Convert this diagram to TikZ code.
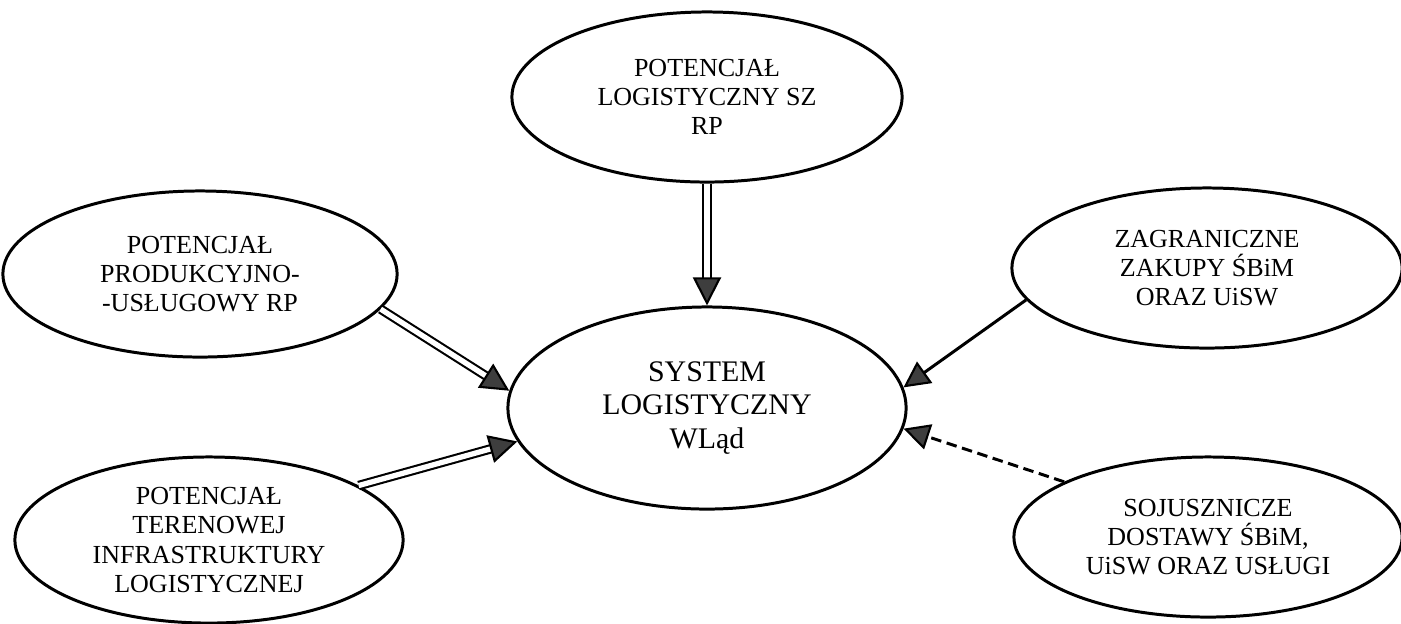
\documentclass[tikz,border=0pt]{standalone}
\usepackage{fontspec}
\setmainfont{Liberation Serif}
\usetikzlibrary{shapes.geometric,arrows.meta}
\definecolor{tipgray}{RGB}{62,62,62}
\tikzset{
  blob/.style={draw,ellipse,line width=0.85pt,inner sep=0pt,align=center,
    font=\fontsize{7.4}{8.3}\selectfont},
  feed/.style={double,line width=0.6pt,double distance=1.5pt,
    -{Triangle[length=8pt,width=8pt,fill=tipgray,line width=0.6pt]}},
  link/.style={line width=0.85pt,
    -{Triangle[length=7.4pt,width=7.4pt,fill=tipgray,line width=0.6pt]}},
}
\begin{document}
\begin{tikzpicture}[x=0.01cm,y=-0.01cm]
  \useasboundingbox (0,0) rectangle (1401,623);
  % ellipses
  \node[blob,minimum width=3.9cm,minimum height=1.7cm] (szrp) at (707,97) {POTENCJAŁ\\LOGISTYCZNY SZ\\RP};
  \node[blob,minimum width=3.98cm,minimum height=2.02cm,
    font=\fontsize{8.5}{9.4}\selectfont] (wlad) at (707,408) {SYSTEM\\LOGISTYCZNY\\WLąd};
  \node[blob,minimum width=3.94cm,minimum height=1.66cm] (prod) at (200,274) {POTENCJAŁ\\PRODUKCYJNO-\\-USŁUGOWY RP};
  \node[blob,minimum width=3.88cm,minimum height=1.66cm] (infra) at (209,540) {POTENCJAŁ\\TERENOWEJ\\INFRASTRUKTURY\\LOGISTYCZNEJ};
  \node[blob,minimum width=3.9cm,minimum height=1.6cm] (zakupy) at (1207,268) {ZAGRANICZNE\\ZAKUPY ŚBiM\\ORAZ UiSW};
  \node[blob,minimum width=3.88cm,minimum height=1.6cm] (dostawy) at (1208,537) {SOJUSZNICZE\\DOSTAWY ŚBiM,\\UiSW ORAZ USŁUGI};
  % connectors
  \draw[feed] (szrp.south) -- (wlad.north);
  \draw[feed] (prod.-11) -- (wlad.175);
  \draw[feed] (infra.20) -- (wlad.190);
  \draw[link] (zakupy.190) -- (wlad.6);
  \draw[link,dash pattern=on 3pt off 1.6pt] (dostawy.159) -- (wlad.-6);
\end{tikzpicture}
\end{document}
